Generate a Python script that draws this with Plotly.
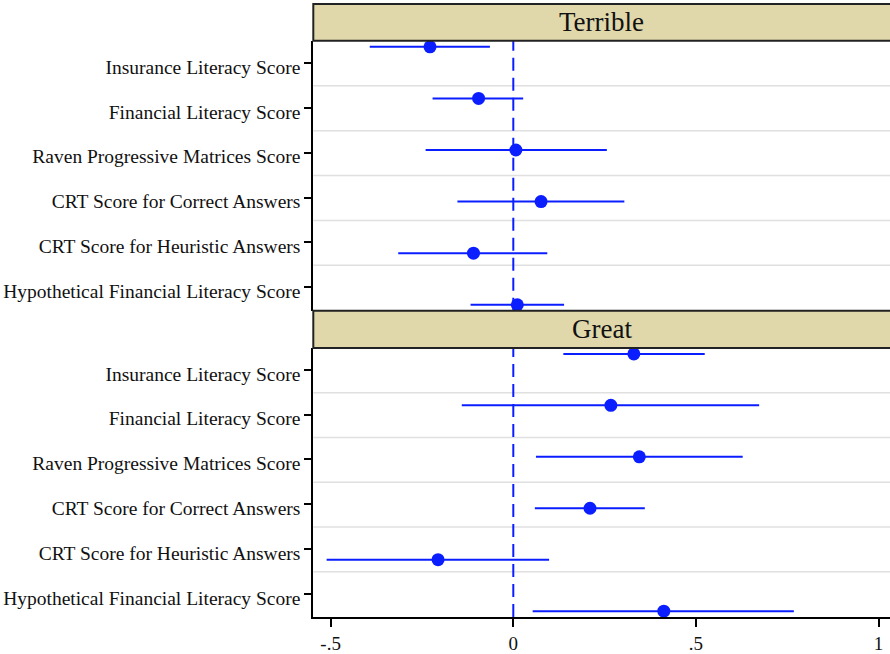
import plotly.graph_objects as go

# Coefficient estimates with 95% confidence intervals, by outcome group
labels = [
    "Insurance Literacy Score",
    "Financial Literacy Score",
    "Raven Progressive Matrices Score",
    "CRT Score for Correct Answers",
    "CRT Score for Heuristic Answers",
    "Hypothetical Financial Literacy Score",
]
panels = ["Terrible", "Great"]

terrible_est = [-0.228, -0.095, 0.007, 0.076, -0.109, 0.011]
terrible_lo = [-0.393, -0.221, -0.240, -0.153, -0.315, -0.117]
terrible_hi = [-0.064, 0.027, 0.256, 0.304, 0.093, 0.139]

great_est = [0.330, 0.267, 0.345, 0.210, -0.206, 0.412]
great_lo = [0.137, -0.141, 0.062, 0.059, -0.511, 0.053]
great_hi = [0.524, 0.673, 0.628, 0.360, 0.098, 0.768]

x_tickvals = [-0.5, 0, 0.5, 1]
x_ticktext = ["-.5", "0", ".5", "1"]

BLUE = "#0a1eff"
FONT = "Liberation Serif"
W, H = 890, 654

def py(v):
    """pixel row -> paper fraction"""
    return 1 - v / H

x_dom = [313.3 / W, 1.0]
panel_px = [(41, 311.7), (349, 619)]       # plot areas (top, bottom)
header_px = [(4, 41), (311.7, 349)]        # strip headers

n = len(labels)
pos = list(range(n))
step = 51.7                                 # px between markers
pad = 6.0                                   # px from frame to first/last marker
y_range = [n - 1 + pad / step, -pad / step]
tick_vals = [(22 + 45 * i - pad) / step for i in range(n)]
grid_vals = [(45 + 45 * i - pad) / step for i in range(n - 1)]

fig = go.Figure()

series = [(terrible_est, terrible_lo, terrible_hi), (great_est, great_lo, great_hi)]
for k, (est, lo, hi) in enumerate(series):
    xa = "x" if k == 1 else "x2"
    ya = "y" if k == 1 else "y2"
    fig.add_trace(go.Scatter(
        x=est, y=pos, mode="markers",
        marker=dict(color=BLUE, size=13),
        error_x=dict(type="data", symmetric=False,
                     array=[h - e for h, e in zip(hi, est)],
                     arrayminus=[e - l for e, l in zip(est, lo)],
                     color=BLUE, thickness=2, width=0),
        xaxis=xa, yaxis=ya, showlegend=False, cliponaxis=False,
    ))

x_range = [(313.3 - 513.3) / 365.3, (890 - 513.3) / 365.3]
common_x = dict(range=x_range, domain=x_dom, showgrid=False, zeroline=False,
                linecolor="black", linewidth=2)
fig.update_layout(
    width=W, height=H,
    margin=dict(l=0, r=0, t=0, b=0),
    paper_bgcolor="white", plot_bgcolor="white",
    font=dict(family=FONT, color="#111", size=19),
    xaxis=dict(**common_x, anchor="y", showline=True, tickvals=x_tickvals,
               ticktext=x_ticktext, ticks="outside", ticklen=8, tickwidth=1.5,
               tickcolor="black", tickfont=dict(size=19, family=FONT, color="#111")),
    xaxis2=dict(**common_x, anchor="y2", matches="x", showticklabels=False,
                showline=False),
)

for k, ykey in enumerate(["yaxis2", "yaxis"]):
    top, bot = panel_px[k]
    fig.layout[ykey] = dict(
        domain=[py(bot), py(top)], range=y_range, anchor="x" if k == 1 else "x2",
        tickvals=tick_vals, ticktext=labels, ticks="outside", ticklen=7,
        tickwidth=1.5, tickcolor="black", showgrid=False, zeroline=False,
        showline=True, linecolor="black", linewidth=2,
        tickfont=dict(size=19.5, family=FONT, color="#111"),
        ticklabelshift=-4,
    )

shapes = []
annotations = []
for k in range(2):
    ya = "y2" if k == 0 else "y"
    xa = "x2" if k == 0 else "x"
    for g in grid_vals:
        shapes.append(dict(type="line", xref=f"{xa} domain", x0=0, x1=1,
                           yref=ya, y0=g, y1=g, layer="below",
                           line=dict(color="#e0e0e0", width=1.5)))
    shapes.append(dict(type="line", xref=xa, x0=0, x1=0,
                       yref=f"{ya} domain", y0=0, y1=1, layer="below",
                       line=dict(color=BLUE, width=2, dash="13px,7px")))
    t, b = header_px[k]
    shapes.append(dict(type="rect", xref="paper", x0=x_dom[0], x1=1.02,
                       yref="paper", y0=py(b), y1=py(t),
                       fillcolor="#e0d8ab", line=dict(color="#222", width=2)))
    annotations.append(dict(text=panels[k], xref="paper", yref="paper",
                            x=(x_dom[0] + x_dom[1]) / 2, y=py((t + b) / 2),
                            showarrow=False, xanchor="center", yanchor="middle",
                            font=dict(size=27, family=FONT, color="#111")))

fig.update_layout(shapes=shapes, annotations=annotations)
fig.write_html("out.html")
